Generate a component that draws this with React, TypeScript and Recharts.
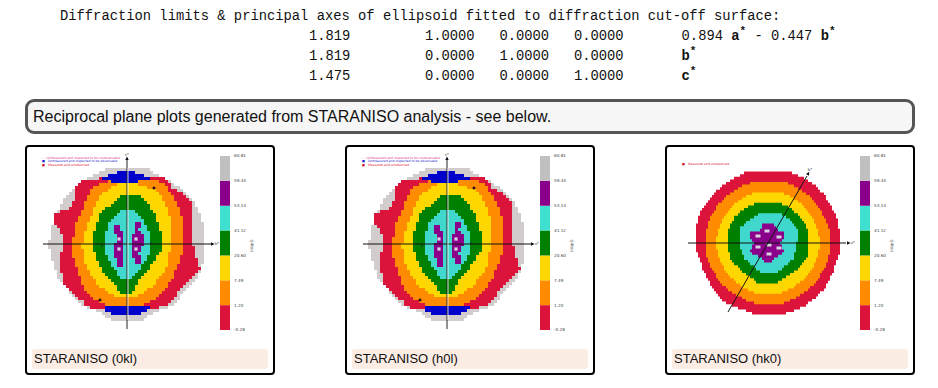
import React from "react";
import { Area, Bar, BarChart, ComposedChart, Scatter, ScatterChart, XAxis, YAxis } from "recharts";

type Row = [number, number, number];

// rows are [height above centre, left edge, right edge]
const grayDisc: Row[] = [[77, -16, 18], [73, -27, 25], [70, -30, 29], [66, -39, 36], [59, -49, 49], [49, -60, 61], [39, -67, 69], [29, -71, 73], [19, -75, 76], [9, -77, 77], [-1, -78, 78], [-14, -76, 76], [-24, -72, 75], [-34, -69, 70], [-47, -58, 58], [-61, -46, 46], [-69, -26, 26], [-76, -16, 16]];
const redBand: Row[] = [[66, -24, 36], [62, -50, 42], [56, -51, 45], [50, -52, 58], [46, -52, 60], [40, -55, 66], [36, -57, 66], [30, -72, 66], [20, -72, 66], [10, -65, 66], [0, -64, 66], [-10, -66, 68], [-20, -66, 72], [-26, -66, 73], [-32, -65, 65], [-42, -62, 56], [-50, -54, 50], [-57, -44, 44], [-62, -42, 38], [-66, -25, 25]];
const orangeBand: Row[] = [[64, -15, 30], [60, -28, 36], [56, -34, 40], [50, -38, 45], [46, -40, 47], [40, -43, 51], [36, -44, 52], [27, -48, 55], [23, -50, 55], [10, -53, 56], [0, -55, 56], [-10, -55, 55], [-19, -52, 52], [-33, -47, 46], [-43, -44, 40], [-53, -37, 31], [-60, -25, 18], [-62, -10, 8]];
const yellowBand: Row[] = [[60, -10, 10], [55, -18, 26], [50, -25, 31], [47, -28, 35], [40, -32, 39], [30, -35, 42], [20, -39, 44], [10, -43, 45], [0, -45, 44], [-10, -44, 42], [-19, -42, 41], [-29, -37, 36], [-39, -30, 28], [-43, -27, 24], [-49, -17, 15], [-54, -8, 6]];
const greenBand: Row[] = [[49, -6, 11], [45, -11, 16], [40, -16, 21], [35, -21, 24], [30, -27, 28], [22, -30, 31], [15, -32, 33], [5, -34, 35], [-5, -33, 35], [-16, -30, 28], [-26, -25, 21], [-32, -20, 16], [-39, -14, 10], [-44, -10, 8], [-49, -6, 6]];
const turquoiseBand: Row[] = [[34, -4, 7], [30, -9, 10], [25, -14, 15], [20, -18, 18], [15, -20, 21], [5, -22, 23], [-5, -22, 23], [-12, -20, 21], [-18, -17, 18], [-26, -12, 12], [-32, -8, 6], [-35, -6, 4]];
const purpleLeft: Row[] = [[20, -14, -8], [13, -14, -6], [10, -11, -4], [5, -11, -3], [-3, -12, -3], [-11, -12, -3], [-15, -11, -5], [-22, -11, -5]];
const purpleRight: Row[] = [[22, 7, 13], [12, 7, 12], [10, 6, 16], [0, 6, 16], [-5, 4, 13], [-12, 4, 12], [-14, 7, 14], [-19, 8, 14]];
const blueTop: Row[] = [[72, -8, 6], [70, -17, 12], [67, -24, 22], [64, -26, 26], [62, -12, 8], [61, -5, 3]];
const blueBottom: Row[] = [[-61, -6, 5], [-62, -13, 12], [-64, -25, 25], [-67, -22, 20], [-70, -14, 12], [-72, -6, 6]];

const redHk0: Row[] = [[72, -14, 16], [70, -24, 24], [65, -33, 36], [58, -44, 46], [51, -53, 54], [41, -61, 61], [28, -69, 68], [11, -73, 72], [0, -73, 73], [-9, -71, 72], [-29, -64, 65], [-45, -56, 57], [-57, -46, 45], [-64, -34, 35], [-70, -16, 19], [-72, -12, 16]];
const orangeHk0: Row[] = [[62, -12, 14], [56, -28, 28], [48, -40, 40], [38, -50, 49], [25, -58, 57], [11, -62, 62], [0, -63, 63], [-12, -62, 61], [-25, -57, 57], [-39, -48, 48], [-49, -37, 37], [-57, -22, 23], [-61, -12, 12]];
const yellowHk0: Row[] = [[51, -13, 12], [46, -24, 24], [38, -35, 35], [25, -45, 45], [11, -50, 50], [0, -52, 52], [-12, -50, 50], [-25, -44, 45], [-39, -33, 33], [-45, -24, 24], [-50, -13, 12]];
const greenHk0: Row[] = [[41, -9, 9], [35, -23, 22], [25, -34, 34], [15, -39, 39], [0, -41, 41], [-15, -38, 39], [-27, -28, 29], [-35, -16, 17], [-40, -11, 9]];
const turquoiseHk0: Row[] = [[30, -8, 12], [23, -19, 22], [15, -28, 29], [0, -29, 29], [-15, -24, 26], [-24, -14, 16], [-30, -6, 9]];
const purpleHk0: Row[] = [[20, -4, 4], [13, -8, 9], [11, -18, 17], [5, -17, 16], [0, -14, 12], [-9, -18, 17], [-12, -13, 12], [-15, -6, 6], [-19, -3, 4]];

const holesSlice = [{ x: -8, y: 5 }, { x: -8, y: -5 }, { x: 9, y: 5 }, { x: 9, y: -5 }];
const holesHk0 = [{ x: -1, y: 12 }, { x: -10, y: 7 }, { x: 11, y: 6 }, { x: 1, y: -2 }, { x: -10, y: -4 }, { x: 11, y: -5 }, { x: 1, y: -11 }];
const blackDots = [{ x: 27, y: 56 }, { x: -27, y: -56 }];
const navyDots = [{ x: -25, y: -2 }, { x: 24, y: 1 }];

const colorbarTicks = ["-0.28", "1.20", "7.49", "20.60", "41.12", "53.14", "59.44", "60.81"];
const colorbarColors = ["#dc143c", "#ff8c00", "#ffd700", "#008000", "#40e0d0", "#8b008b", "#c0c0c0"];
const colorbarRow = [{ name: "bar", s0: 1, s1: 1, s2: 1, s3: 1, s4: 1, s5: 1, s6: 1 }];

const legendSlice = [
  { text: "Unmeasured and inspected to be unobservable", color: "#e0359a", mark: "\u2013" },
  { text: "Unmeasured and inspected to be observable", color: "#2a2ad0", mark: "\u25a0" },
  { text: "Measured and unobserved", color: "#dc143c", mark: "\u25a0" },
];
const legendHk0 = [{ text: "Measured and unobserved", color: "#dc143c", mark: "\u25a0" }];

const tableLines = [
  { top: 9, left: 60, html: "Diffraction limits &amp; principal axes of ellipsoid fitted to diffraction cut-off surface:" },
  { top: 29, left: 309, html: "1.819         1.0000   0.0000   0.0000       0.894 <b>a<sup>*</sup></b> - 0.447 <b>b<sup>*</sup></b>" },
  { top: 49, left: 309, html: "1.819         0.0000   1.0000   0.0000       <b>b<sup>*</sup></b>" },
  { top: 69, left: 309, html: "1.475         0.0000   0.0000   1.0000       <b>c<sup>*</sup></b>" },
];

const toRows = (band: Row[]) => band.map(([y, l, r]) => ({ y, range: [l, r] }));

const CHART = 200;
const DOMAIN = [-100, 100];

// curve that draws an edge as the reflection lattice's stair steps
const stairCurve = (xStep: number, yStep: number) => (ctx: any) => {
  let pts: number[][] = [];
  let line = NaN;
  return {
    areaStart() { line = 0; },
    areaEnd() { line = NaN; },
    lineStart() { pts = []; },
    point(x: number, y: number) { pts.push([+x, +y]); },
    lineEnd() {
      const up = pts[0][1] > pts[pts.length - 1][1];
      const sorted = up ? [...pts].reverse() : pts;
      const y0 = Math.round(sorted[0][1] / yStep) * yStep;
      const y1 = Math.round(sorted[sorted.length - 1][1] / yStep) * yStep;
      const out: number[][] = [];
      for (let y = y0; y < y1 - 0.01; y += yStep) {
        const mid = y + yStep / 2;
        let k = 0;
        while (k < sorted.length - 2 && sorted[k + 1][1] < mid) k++;
        const [ax, ay] = sorted[k];
        const [bx, by] = sorted[k + 1] || sorted[k];
        const t = by === ay ? 0 : Math.max(0, Math.min(1, (mid - ay) / (by - ay)));
        const x = Math.round((ax + (bx - ax) * t) / xStep) * xStep;
        out.push([x, y], [x, y + yStep]);
      }
      if (!out.length) out.push(sorted[0]);
      const seq = up ? out.reverse() : out;
      seq.forEach(([x, y], i) => {
        if (i === 0 && !line) ctx.moveTo(x, y);
        else ctx.lineTo(x, y);
      });
      if (line) ctx.closePath();
      line = 1 - line;
    },
  };
};

function Arrow(props: any) {
  const { cx, cy, payload } = props;
  const a = payload.angle;
  return (
    <g transform={`translate(${cx},${cy})`}>
      <polygon points="0,-2.6 -1.7,1 1.7,1" fill="#111" transform={`rotate(${a})`} />
      <text x={payload.tx} y={payload.ty} fontSize={4.5} fill="#333" textAnchor="middle" dominantBaseline="middle">{payload.label}</text>
    </g>
  );
}

const hole = (w: number, h: number, fill: string) => (props: any) =>
  <rect x={props.cx - w / 2} y={props.cy - h / 2} width={w} height={h} fill={fill} />;
const dot = (r: number, fill: string) => (props: any) => <circle cx={props.cx} cy={props.cy} r={r} fill={fill} />;

function Disc({ bands, step }: { bands: { data: Row[]; fill: string }[]; step: number[] }) {
  const curve = stairCurve(step[0], step[1]);
  return (
    <ComposedChart width={CHART} height={CHART} layout="vertical" margin={{ top: 0, right: 0, bottom: 0, left: 0 }} style={{ position: "absolute", left: 0, top: 0, filter: "blur(0.45px)" }}>
      <XAxis type="number" domain={DOMAIN} hide />
      <YAxis type="number" dataKey="y" domain={DOMAIN} reversed hide />
      {bands.map((b, i) => (
        <Area key={i} data={toRows(b.data)} dataKey="range" type={curve as any} fill={b.fill} fillOpacity={1} stroke="none" isAnimationActive={false} dot={false} activeDot={false} />
      ))}
    </ComposedChart>
  );
}

function Overlay({ axes, tips, holes, holeSize, dots }: any) {
  return (
    <ScatterChart width={CHART} height={CHART} margin={{ top: 0, right: 0, bottom: 0, left: 0 }} style={{ position: "absolute", left: 0, top: 0 }}>
      <XAxis type="number" dataKey="x" domain={DOMAIN} hide />
      <YAxis type="number" dataKey="y" domain={DOMAIN} hide />
      <Scatter data={holes} shape={hole(holeSize[0], holeSize[1], "#d9d3e0")} isAnimationActive={false} />
      {dots && <Scatter data={navyDots} shape={dot(0.8, "#1a1a70")} isAnimationActive={false} />}
      {dots && <Scatter data={blackDots} shape={dot(1.5, "#2a1020")} isAnimationActive={false} />}
      {axes.map((a: any, i: number) => (
        <Scatter key={i} data={a.points} line={{ stroke: a.stroke, strokeWidth: a.width }} shape={() => <g />} isAnimationActive={false} />
      ))}
      <Scatter data={tips} shape={Arrow} isAnimationActive={false} />
    </ScatterChart>
  );
}

function Colorbar() {
  return (
    <BarChart width={40} height={186} data={colorbarRow} barCategoryGap={0} margin={{ top: 6, right: 0, bottom: 6, left: 0 }} style={{ position: "absolute", left: 193, top: 3 }}>
      <XAxis dataKey="name" hide />
      <YAxis orientation="right" width={30} type="number" domain={[0, 7]} ticks={[0, 1, 2, 3, 4, 5, 6, 7]} interval={0} tickFormatter={(v: number) => colorbarTicks[v]}
        axisLine={false} tickLine={false} tickSize={0} tickMargin={4} tick={{ fontSize: 4.2, fill: "#444", fontFamily: "DejaVu Sans", textAnchor: "start" }} />
      {colorbarColors.map((c, i) => (
        <Bar key={i} dataKey={`s${i}`} stackId="cb" fill={c} isAnimationActive={false} />
      ))}
    </BarChart>
  );
}

function Card({ left, caption, center, step, bands, axes, tips, holes, holeSize, dots, legend, legendTop }: any) {
  return (
    <div style={{ position: "absolute", left, top: 145, width: 250, height: 230, boxSizing: "border-box", border: "2px solid #000", borderRadius: 4, background: "#fff", overflow: "hidden" }}>
      <div style={{ position: "absolute", left: center[0] - CHART / 2, top: center[1] - CHART / 2, width: CHART, height: CHART }}>
        <Disc bands={bands} step={step} />
        <Overlay axes={axes} tips={tips} holes={holes} holeSize={holeSize} dots={dots} />
      </div>
      <Colorbar />
      <div style={{ position: "absolute", left: 222, top: 91, fontSize: 4, color: "#444", fontFamily: "DejaVu Sans", transform: "rotate(-90deg)", transformOrigin: "left top", whiteSpace: "nowrap", marginTop: 14 }}>I/sig(I)</div>
      {legend.map((l: any, i: number) => (
        <div key={i} style={{ position: "absolute", left: 15, top: legendTop + i * 3.4, fontSize: 3.1, lineHeight: "3.4px", color: l.color, fontFamily: "DejaVu Sans", whiteSpace: "nowrap" }}>
          <span style={{ marginRight: 3 }}>{l.mark}</span>{l.text}
        </div>
      ))}
      <div style={{ position: "absolute", left: 5, top: 202, width: 236, height: 20, background: "#fbece4", borderRadius: 3, fontFamily: "Liberation Sans", fontSize: 13, lineHeight: "20px", paddingLeft: 2, boxSizing: "border-box", color: "#111" }}>{caption}</div>
    </div>
  );
}

const sliceBands = [
  { data: grayDisc, fill: "#d3cccc" },
  { data: redBand, fill: "#dc143c" },
  { data: orangeBand, fill: "#ff8c00" },
  { data: yellowBand, fill: "#ffd700" },
  { data: greenBand, fill: "#008000" },
  { data: turquoiseBand, fill: "#40d8cc" },
  { data: purpleLeft, fill: "#8b008b" },
  { data: purpleRight, fill: "#8b008b" },
  { data: blueTop, fill: "#0000cd" },
  { data: blueBottom, fill: "#0000cd" },
];
const hk0Bands = [
  { data: redHk0, fill: "#dc143c" },
  { data: orangeHk0, fill: "#ff8c00" },
  { data: yellowHk0, fill: "#ffd700" },
  { data: greenHk0, fill: "#008000" },
  { data: turquoiseHk0, fill: "#40d8cc" },
  { data: purpleHk0, fill: "#8b008b" },
];

const sliceAxes = [
  { points: [{ x: -84, y: 0 }, { x: 84, y: 0 }], stroke: "#111", width: 1 },
  { points: [{ x: 0, y: -85 }, { x: 0, y: 84 }], stroke: "#222", width: 1 },
  { points: [{ x: 1, y: -76 }, { x: 1, y: 76 }], stroke: "#fff", width: 0.8 },
];
const hk0Axes = [
  { points: [{ x: -80, y: 0 }, { x: 78, y: 0 }], stroke: "#111", width: 1 },
  { points: [{ x: -40, y: -69 }, { x: 39, y: 67 }], stroke: "#111", width: 1 },
];
const tips0kl = [
  { x: 85, y: 0, angle: 90, label: "b*", tx: 5, ty: 0 },
  { x: 0, y: 85, angle: 0, label: "c*", tx: 0, ty: -4 },
];
const tipsH0l = [
  { x: 85, y: 0, angle: 90, label: "a*", tx: 5, ty: 0 },
  { x: 0, y: 85, angle: 0, label: "c*", tx: 0, ty: -4 },
];
const tipsHk0 = [
  { x: 80, y: 0, angle: 90, label: "a*", tx: 5, ty: 0 },
  { x: 40, y: 69, angle: 30, label: "b*", tx: 2, ty: -4 },
];

export default function App() {
  return (
    <div style={{ position: "absolute", left: 0, top: 0, width: 938, height: 388, background: "#fff", overflow: "hidden" }}>
      {tableLines.map((t, i) => (
        <pre key={i} style={{ position: "absolute", left: t.left, top: t.top, margin: 0, fontFamily: "Liberation Mono", fontSize: 13.8, lineHeight: "16px", color: "#111" }}
          dangerouslySetInnerHTML={{ __html: t.html.replace(/<sup>/g, '<sup style="font-size:11px;line-height:0">') }} />
      ))}
      <div style={{ position: "absolute", left: 25, top: 99, width: 890, height: 35, boxSizing: "border-box", border: "3px solid #555", borderRadius: 9, background: "#f6f6f6", fontFamily: "Liberation Sans", fontSize: 16, lineHeight: "29px", paddingLeft: 5, color: "#111" }}>
        Reciprocal plane plots generated from STARANISO analysis - see below.
      </div>
      <Card left={25} caption="STARANISO (0kl)" center={[100, 97]} step={[3, 3]} bands={sliceBands} axes={sliceAxes} tips={tips0kl} holes={holesSlice} holeSize={[3.2, 3.2]} dots legend={legendSlice} legendTop={10} />
      <Card left={345} caption="STARANISO (h0l)" center={[100, 97]} step={[3, 3]} bands={sliceBands} axes={sliceAxes} tips={tipsH0l} holes={holesSlice} holeSize={[3.2, 3.2]} dots legend={legendSlice} legendTop={10} />
      <Card left={665} caption="STARANISO (hk0)" center={[101, 96]} step={[2, 2.6]} bands={hk0Bands} axes={hk0Axes} tips={tipsHk0} holes={holesHk0} holeSize={[5, 3]} legend={legendHk0} legendTop={16} />
    </div>
  );
}
